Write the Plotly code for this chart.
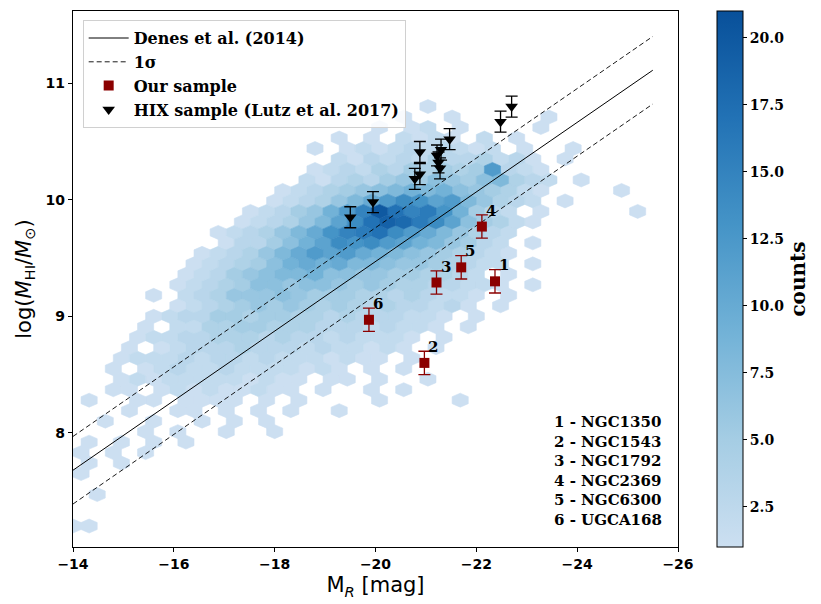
import plotly.graph_objects as go
from plotly.colors import sample_colorscale

# ---------------- data ----------------
# Denes et al. (2014) relation  log(MHI) = A + B * M_R, with 1-sigma scatter
DENES_A = 3.50
DENES_B = -0.2985
DENES_SIGMA = 0.29
DENES_X = [-14.0, -25.5]

# Our sample
SAMPLE_ID = [1, 2, 3, 4, 5, 6]
SAMPLE_NAME = ["NGC1350", "NGC1543", "NGC1792", "NGC2369", "NGC6300", "UGCA168"]
SAMPLE_MR = [-22.37, -20.97, -21.21, -22.11, -21.70, -19.87]
SAMPLE_LOGHI = [9.30, 8.60, 9.29, 9.77, 9.42, 8.97]
SAMPLE_ERR = [0.10, 0.10, 0.10, 0.10, 0.10, 0.10]

# HIX sample (Lutz et al. 2017)
HIX_MR = [-19.50, -19.95, -20.78, -20.88, -20.88, -21.22, -21.25, -21.30, -21.28, -21.47, -22.48, -22.70]
HIX_LOGHI = [9.85, 9.98, 10.18, 10.22, 10.41, 10.38, 10.32, 10.43, 10.27, 10.52, 10.67, 10.80]
HIX_ERR = [0.09, 0.09, 0.09, 0.09, 0.09, 0.09, 0.09, 0.09, 0.09, 0.09, 0.09, 0.09]

# Hexbin counts (base-36 digits, '.' = empty bin); row k -> (first column, counts)
HEX_X0 = -14.0
HEX_DX = 0.32
HEX_Y0 = 7.20
HEX_DY = 0.18
HEX_ROWS = {
    40: (22, "1"),
    39: (20, "1..1.....1"),
    38: (19, "1.12.1....1"),
    37: (16, "1.1.2121.2.1"),
    36: (15, "1.1212323212.1..1"),
    35: (16, "2132324334231.1"),
    34: (15, "12324354545c321"),
    33: (14, "2134356576578432.1"),
    32: (13, "12345678989765421....1"),
    31: (12, "123468acedbc86432.1"),
    30: (11, "123569cfkhfgd9532.1.....1"),
    29: (10, "123468behjigeb75421"),
    28: (9, "123468adfgheca86432"),
    27: (9, "133579bedecb986532.1"),
    26: (8, "123468acbca987654321"),
    25: (7, "1234579a9a8876654322.1"),
    24: (7, "1235678897766554432.1"),
    23: (6, "123457767765654433221.1"),
    22: (5, "1.2346667655544343221.1"),
    21: (6, "1234565654543433231.1"),
    20: (5, "1233554554434333221.1"),
    19: (4, "1.22445544433323221.1"),
    18: (4, "122334443433232221.1"),
    17: (3, "1.1233343332322121.1"),
    16: (3, "12223233232221211.1"),
    15: (2, "1.1232232222121.1.1"),
    14: (3, "121222221211.11.1..1"),
    13: (2, "11.121211211.1..1.1"),
    12: (1, "1..11.1111.1.1....1....1"),
    11: (3, "1..11.1.1.1..1"),
    10: (2, "1..1..1.1.1"),
    9: (4, "1.1..1..1"),
    8: (1, "1.1.1.1"),
    7: (0, "1.1.1"),
    6: (1, "1.1"),
    5: (0, "1"),
    3: (1, "1"),
    0: (0, "11"),
}
CMIN, CMAX = 1, 21

# ---------------- build ----------------
BLUES_CUT = [
    [0.0, "#ccdff1"], [0.2, "#a5cde4"], [0.4, "#72b2d7"],
    [0.6, "#4594c7"], [0.8, "#2272b5"], [1.0, "#08509a"],
]

hx, hy, hc = [], [], []
for k, (start, s) in HEX_ROWS.items():
    yc = HEX_Y0 + k * HEX_DY / 2
    off = HEX_DX / 2 if k % 2 else 0.0
    for j, ch in enumerate(s):
        if ch == ".":
            continue
        i = start + j
        hx.append(HEX_X0 - i * HEX_DX - off)
        hy.append(yc)
        hc.append(int(ch, 36))

fig = go.Figure()

hw = HEX_DX / 2
tip = HEX_DY / 3
side = HEX_DY / 6
for c in sorted(set(hc)):
    px, py = [], []
    for x, y, cc in zip(hx, hy, hc):
        if cc != c:
            continue
        px += [x + hw, x + hw, x, x - hw, x - hw, x, x + hw, None]
        py += [y - side, y + side, y + tip, y + side, y - side, y - tip, y - side, None]
    col = sample_colorscale(BLUES_CUT, [(c - CMIN) / (CMAX - CMIN)])[0]
    fig.add_trace(go.Scatter(x=px, y=py, mode="lines", fill="toself", fillcolor=col,
                             line=dict(color=col, width=0.6), hoverinfo="skip",
                             showlegend=False))

# colorbar carrier
fig.add_trace(go.Scatter(
    x=hx, y=hy, mode="markers", hoverinfo="skip", showlegend=False,
    marker=dict(size=1, opacity=0, color=hc, colorscale=BLUES_CUT, cmin=CMIN, cmax=CMAX,
                showscale=True,
                colorbar=dict(
                    x=1.064, xanchor="left", y=0.5, yanchor="middle", len=1.0,
                    thickness=26, xpad=0, ypad=0, outlinewidth=1, outlinecolor="black",
                    tickvals=[2.5, 5, 7.5, 10, 12.5, 15, 17.5, 20], tickformat=".1f",
                    ticks="outside", ticklen=4, tickcolor="black",
                    tickfont=dict(family="DejaVu Serif", size=14, color="black", weight="bold"),
                    title=dict(text="counts", side="right",
                               font=dict(family="DejaVu Serif", size=20, color="black", weight="bold")),
                ))))

# relation lines
ly = [DENES_A + DENES_B * x for x in DENES_X]
fig.add_trace(go.Scatter(x=DENES_X, y=ly, mode="lines", name="Denes et al. (2014)",
                         line=dict(color="black", width=1.0)))
sx_ = DENES_X + [None] + DENES_X
sy_ = [v + DENES_SIGMA for v in ly] + [None] + [v - DENES_SIGMA for v in ly]
fig.add_trace(go.Scatter(x=sx_, y=sy_, mode="lines", name="1σ",
                         line=dict(color="black", width=0.9, dash="5px,3px")))

fig.add_trace(go.Scatter(
    x=SAMPLE_MR, y=SAMPLE_LOGHI, mode="markers", name="Our sample",
    marker=dict(symbol="square", size=10, color="#8b0000"),
    error_y=dict(type="data", array=SAMPLE_ERR, color="#8b0000", thickness=1.3, width=6)))

fig.add_trace(go.Scatter(
    x=HIX_MR, y=HIX_LOGHI, mode="markers", name="HIX sample (Lutz et al. 2017)",
    marker=dict(symbol="triangle-down", size=11, color="black"),
    error_y=dict(type="data", array=HIX_ERR, color="black", thickness=1.3, width=6)))

annotations = []
for n, x, y in zip(SAMPLE_ID, SAMPLE_MR, SAMPLE_LOGHI):
    annotations.append(dict(x=x, y=y, text=str(n), showarrow=False, xshift=9, yshift=16,
                            font=dict(family="DejaVu Serif", size=15, color="black", weight="bold")))
annotations.append(dict(
    xref="paper", yref="paper", x=0.977, y=0.03, xanchor="right", yanchor="bottom",
    align="left", showarrow=False,
    text="<br>".join(f"{n} - {nm}" for n, nm in zip(SAMPLE_ID, SAMPLE_NAME)),
    font=dict(family="DejaVu Serif", size=15, color="black", weight="bold")))

tickfont = dict(family="DejaVu Sans", size=14, color="black", weight="bold")
fig.update_layout(
    width=821, height=604, margin=dict(l=73, r=137, t=11, b=57),
    paper_bgcolor="white", plot_bgcolor="white",
    showlegend=True,
    legend=dict(x=0.016, y=0.983, xanchor="left", yanchor="top", itemwidth=40,
                bgcolor="rgba(255,255,255,0.85)", bordercolor="#d0d0d0", borderwidth=1,
                font=dict(family="DejaVu Serif", size=16, color="black", weight="bold")),
    annotations=annotations,
    xaxis=dict(range=[-14, -26], tickvals=[-14, -16, -18, -20, -22, -24, -26],
               ticks="outside", ticklen=4, tickcolor="black", tickfont=tickfont,
               showline=True, mirror=True, linecolor="black", linewidth=1.2,
               showgrid=False, zeroline=False,
               title=dict(text="M<sub><i>R</i></sub> [mag]", standoff=6,
                          font=dict(family="DejaVu Sans", size=21, color="black"))),
    yaxis=dict(range=[7.02, 11.62], tickvals=[8, 9, 10, 11],
               ticks="outside", ticklen=4, tickcolor="black", tickfont=tickfont,
               showline=True, mirror=True, linecolor="black", linewidth=1.2,
               showgrid=False, zeroline=False,
               title=dict(text="log(<i>M</i><sub>HI</sub>/<i>M</i><sub>⊙</sub>)", standoff=8,
                          font=dict(family="DejaVu Sans", size=21, color="black"))),
)

fig.write_html("out.html")
